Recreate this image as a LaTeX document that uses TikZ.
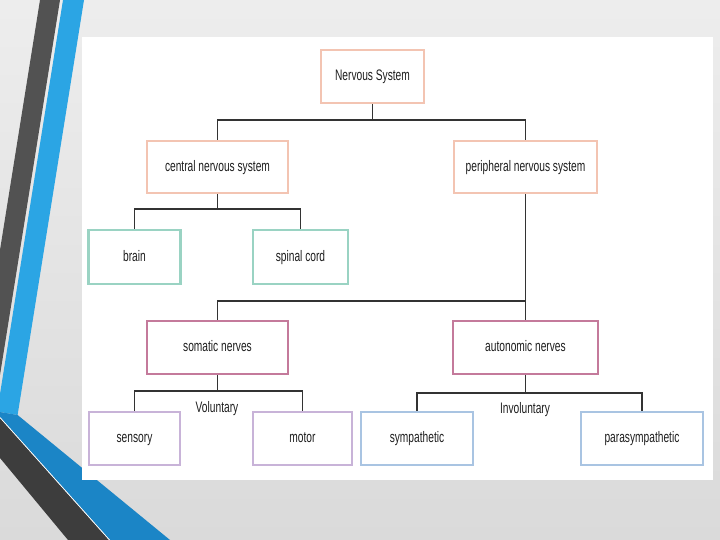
\documentclass[tikz,border=0pt]{standalone}
\usepackage{fontspec}
\setmainfont{Liberation Sans}[FakeStretch=0.67]
\definecolor{sys}{HTML}{F3C4B2}
\definecolor{cns}{HTML}{9AD3C3}
\definecolor{nrv}{HTML}{C47A9B}
\definecolor{vol}{HTML}{C8B3D8}
\definecolor{inv}{HTML}{A9C4E2}
\definecolor{lnk}{HTML}{333333}
\definecolor{txt}{HTML}{1E1E1E}
\definecolor{skyblue}{HTML}{2BA5E4}
\definecolor{deepblue}{HTML}{1B85C6}
\begin{document}
\begin{tikzpicture}[x=.03cm,y=-.03cm,
    box/.style={draw=#1,line width=2pt,fill=white,minimum height=1.59cm,
      inner sep=0pt,font=\fontsize{13}{15}\selectfont,text=txt,
      text height=1.6ex,text depth=.3ex},
    lab/.style={inner sep=0pt,font=\fontsize{13}{15}\selectfont,text=txt},
    link/.style={draw=lnk,line width=1.3pt}]
    % slide background
    \useasboundingbox (0,0) rectangle (720,540);
    \clip (0,0) rectangle (720,540);
    \shade[top color=gray!14,bottom color=gray!29] (0,0) rectangle (720,540);
    \fill[lnk!85] (40,0) -- (60,0) -- (-4,400) -- (-24,400) -- cycle;
    \fill[skyblue] (63,0) -- (84,0) -- (17.6,415) -- (0,412) -- (0,394) -- cycle;
    \fill[deepblue] (0,412) -- (17.6,415) -- (170,540) -- (110,540) -- (0,417) -- cycle;
    \fill[lnk!95] (0,418) -- (109,540) -- (68,540) -- (0,458) -- cycle;
    \draw[white,line width=.6pt] (0,417.5) -- (109.5,540);
    \fill[white] (82,37) rectangle (713,480);
    % tree
    \node[box=sys,minimum width=3.09cm] (ns) at (372.5,76.5) {Nervous System};
    \node[box=sys,minimum width=4.23cm,minimum height=1.56cm] (cns) at (217.5,167) {central nervous system};
    \node[box=sys,minimum width=4.29cm,minimum height=1.56cm] (pns) at (525.5,167) {peripheral nervous system};
    \node[box=cns,minimum width=2.76cm,minimum height=1.62cm] (brain) at (134.5,257) {brain};
    \node[box=cns,minimum width=2.85cm,minimum height=1.62cm] (spinal) at (300.5,257) {spinal cord};
    \node[box=nrv,minimum width=4.23cm] (som) at (217.5,347.5) {somatic nerves};
    \node[box=nrv,minimum width=4.35cm] (aut) at (525.5,347.5) {autonomic nerves};
    \node[box=vol,minimum width=2.73cm] (sens) at (134.5,438.5) {sensory};
    \node[box=vol,minimum width=2.97cm] (mot) at (302.5,438.5) {motor};
    \node[box=inv,minimum width=3.36cm] (symp) at (417,438.5) {sympathetic};
    \node[box=inv,minimum width=3.66cm] (para) at (642,438.5) {parasympathetic};
    \node[lab] (volun) at (217,409) {Voluntary};
    \node[lab] (invol) at (525,410) {Involuntary};
    \coordinate (j1) at (372.5,120);
    \coordinate (j2) at (217.5,209);
    \coordinate (j3) at (525.5,301);
    \coordinate (j4) at (217.5,391);
    \coordinate (j5) at (525.5,393);
    \draw[link] (ns.south) -- (j1);
    \draw[link] (cns.north) |- (j1) -| (pns.north);
    \draw[link] (cns.south) -- (j2);
    \draw[link] (brain.north) |- (j2) -| (spinal.north);
    \draw[link] (pns.south) -- (aut.north);
    \draw[link] (som.north) |- (j3);
    \draw[link] (som.south) -- (j4);
    \draw[link] (sens.north) |- (j4) -| (mot.north);
    \draw[link] (aut.south) -- (j5);
    \draw[link] (symp.north) |- (j5) -| (para.north);
\end{tikzpicture}
\end{document}
